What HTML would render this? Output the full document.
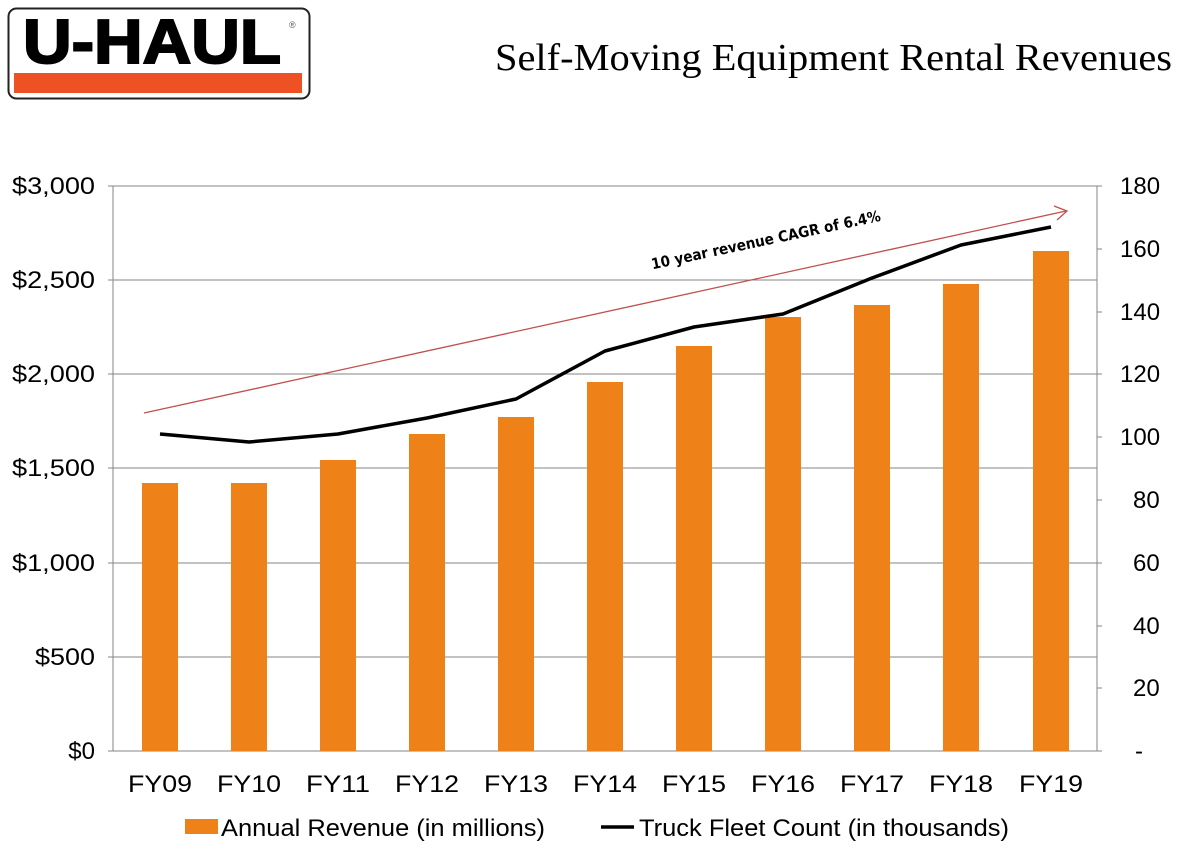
<!DOCTYPE html>
<html><head><style>body{margin:0;background:#fff}</style></head><body>
<svg width="1178" height="845" xmlns="http://www.w3.org/2000/svg" font-family="Liberation Sans, Arial, sans-serif">
<rect x="8.5" y="8.5" width="301" height="90" rx="8" fill="#fff" stroke="#222" stroke-width="2"/>
<text x="152" y="63" text-anchor="middle" font-size="62" font-weight="bold" stroke="#000" stroke-width="2" textLength="258" lengthAdjust="spacingAndGlyphs">U-HAUL</text>
<text x="289" y="28" font-size="9" fill="#555">®</text>
<rect x="14" y="73" width="288" height="20" fill="#ee5224"/>
<text x="1172" y="70" text-anchor="end" font-family="Liberation Serif, serif" font-size="38" textLength="677" lengthAdjust="spacingAndGlyphs">Self-Moving Equipment Rental Revenues</text>
<g stroke="#868686" stroke-width="1">
<line x1="113" y1="186" x2="1097" y2="186"/><line x1="113" y1="280" x2="1097" y2="280"/><line x1="113" y1="374" x2="1097" y2="374"/><line x1="113" y1="468" x2="1097" y2="468"/><line x1="113" y1="563" x2="1097" y2="563"/><line x1="113" y1="657" x2="1097" y2="657"/>
<line x1="113" y1="751" x2="1097" y2="751"/>
<line x1="113" y1="186" x2="113" y2="751"/><line x1="1097" y1="186" x2="1097" y2="751"/>
<line x1="108" y1="186" x2="113" y2="186"/><line x1="108" y1="280" x2="113" y2="280"/><line x1="108" y1="374" x2="113" y2="374"/><line x1="108" y1="468" x2="113" y2="468"/><line x1="108" y1="563" x2="113" y2="563"/><line x1="108" y1="657" x2="113" y2="657"/><line x1="108" y1="751" x2="113" y2="751"/>
<line x1="1097" y1="186" x2="1102" y2="186"/><line x1="1097" y1="249" x2="1102" y2="249"/><line x1="1097" y1="312" x2="1102" y2="312"/><line x1="1097" y1="374" x2="1102" y2="374"/><line x1="1097" y1="437" x2="1102" y2="437"/><line x1="1097" y1="500" x2="1102" y2="500"/><line x1="1097" y1="563" x2="1102" y2="563"/><line x1="1097" y1="626" x2="1102" y2="626"/><line x1="1097" y1="688" x2="1102" y2="688"/><line x1="1097" y1="751" x2="1102" y2="751"/>
</g>
<g font-size="24" text-anchor="end" fill="#000">
<text x="95" y="194" textLength="83" lengthAdjust="spacingAndGlyphs">$3,000</text><text x="95" y="288" textLength="83" lengthAdjust="spacingAndGlyphs">$2,500</text><text x="95" y="382" textLength="83" lengthAdjust="spacingAndGlyphs">$2,000</text><text x="95" y="476" textLength="83" lengthAdjust="spacingAndGlyphs">$1,500</text><text x="95" y="571" textLength="83" lengthAdjust="spacingAndGlyphs">$1,000</text><text x="95" y="665" textLength="60" lengthAdjust="spacingAndGlyphs">$500</text><text x="95" y="759">$0</text>
</g>
<g font-size="24" fill="#000">
<text x="1120" y="194">180</text><text x="1120" y="257">160</text><text x="1120" y="320">140</text><text x="1120" y="382">120</text><text x="1120" y="445">100</text><text x="1133" y="508">80</text><text x="1133" y="571">60</text><text x="1133" y="634">40</text><text x="1133" y="696">20</text><text x="1135" y="759">-</text>
</g>
<g fill="#ee8218">
<rect x="142" y="483" width="36" height="268"/><rect x="231" y="483" width="36" height="268"/><rect x="320" y="460" width="36" height="291"/><rect x="409" y="434" width="36" height="317"/><rect x="498" y="417" width="36" height="334"/><rect x="587" y="382" width="36" height="369"/><rect x="676" y="346" width="36" height="405"/><rect x="765" y="317" width="36" height="434"/><rect x="854" y="305" width="36" height="446"/><rect x="943" y="284" width="36" height="467"/><rect x="1033" y="251" width="36" height="500"/>
</g>
<g font-size="24" text-anchor="middle">
<text x="160" y="792" textLength="64" lengthAdjust="spacingAndGlyphs">FY09</text><text x="249" y="792" textLength="64" lengthAdjust="spacingAndGlyphs">FY10</text><text x="338" y="792" textLength="64" lengthAdjust="spacingAndGlyphs">FY11</text><text x="427" y="792" textLength="64" lengthAdjust="spacingAndGlyphs">FY12</text><text x="516" y="792" textLength="64" lengthAdjust="spacingAndGlyphs">FY13</text><text x="605" y="792" textLength="64" lengthAdjust="spacingAndGlyphs">FY14</text><text x="694" y="792" textLength="64" lengthAdjust="spacingAndGlyphs">FY15</text><text x="783" y="792" textLength="64" lengthAdjust="spacingAndGlyphs">FY16</text><text x="872" y="792" textLength="64" lengthAdjust="spacingAndGlyphs">FY17</text><text x="961" y="792" textLength="64" lengthAdjust="spacingAndGlyphs">FY18</text><text x="1051" y="792" textLength="64" lengthAdjust="spacingAndGlyphs">FY19</text>
</g>
<line x1="144" y1="413" x2="1066" y2="211" stroke="#c0504d" stroke-width="1.3"/>
<path d="M1054,206 L1067,211 L1057,220" fill="none" stroke="#c0504d" stroke-width="1.3"/>
<polyline points="160,434 249,442 338,434 427,418 516,399 605,351 694,327 783,314 872,278 961,245 1051,227" fill="none" stroke="#000" stroke-width="3.5" stroke-linejoin="round"/>
<text x="767" y="245" text-anchor="middle" font-size="15" font-weight="bold" font-family="DejaVu Sans, sans-serif" transform="rotate(-12 767 245)" textLength="234" lengthAdjust="spacingAndGlyphs">10 year revenue CAGR of 6.4%</text>
<rect x="185" y="819" width="33" height="15" fill="#ee8218"/>
<text x="221" y="836" font-size="24" textLength="324" lengthAdjust="spacingAndGlyphs">Annual Revenue (in millions)</text>
<line x1="601" y1="827" x2="634" y2="827" stroke="#000" stroke-width="3.5"/>
<text x="639" y="836" font-size="24" textLength="370" lengthAdjust="spacingAndGlyphs">Truck Fleet Count (in thousands)</text>
</svg>
</body></html>
